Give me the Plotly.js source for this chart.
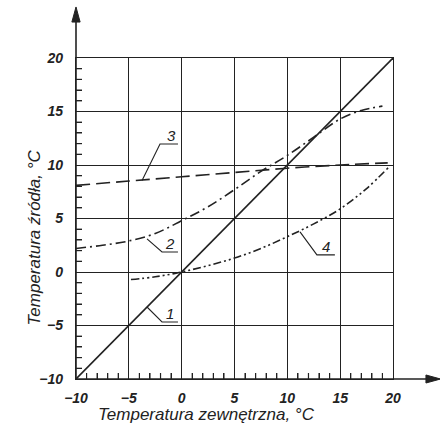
<!DOCTYPE html>
<html>
<head>
<meta charset="utf-8">
<script src="https://cdn.plot.ly/plotly-3.0.1.min.js"></script>
<style>body{margin:0;background:#fff;}</style>
</head>
<body>
<div id="chart"></div>
<script>
// Curve data
const line1X = [-10, 20];
const line1Y = [-10, 20];

const line2X = [-10, -7.5, -5, -2.5, 0, 2.5, 5, 7.5, 10, 12.5, 15, 17, 19];
const line2Y = [2.2, 2.5, 2.9, 3.6, 4.8, 6.1, 7.7, 9.4, 10.9, 12.6, 14.3, 15.1, 15.5];

const line3X = [-10, -5, 0, 5, 10, 15, 19.5];
const line3Y = [8.1, 8.5, 8.9, 9.3, 9.7, 10.0, 10.2];

const line4X = [-4.8, -2.5, 0, 2.5, 5, 7.5, 10, 12.5, 15, 17.5, 19.6];
const line4Y = [-0.7, -0.45, 0, 0.6, 1.3, 2.2, 3.3, 4.5, 5.9, 7.8, 9.8];

const curveLabels = ["1", "2", "3", "4"];
const axisRange = [-10, 20];
const majorStep = 5;
const minorStep = 1;
const xTitle = "Temperatura zewnętrzna, °C";
const yTitle = "Temperatura źródła, °C";

const ink = "#222";
const fontFam = "Liberation Sans";

// minor tick positions derived from the axis range and step
const minorPos = [];
for (let v = axisRange[0] + minorStep; v < axisRange[1]; v += minorStep) {
  if (v % majorStep !== 0) minorPos.push(v);
}
const tickLenX = 0.56; // ~6px in y-data units
const tickLenY = 0.57; // ~6px in x-data units

const traces = [
  {x: line1X, y: line1Y, mode: "lines", line: {color: ink, width: 1.6}},
  {x: line2X, y: line2Y, mode: "lines", line: {color: ink, width: 1.6, dash: "10px,4px,2px,4px", shape: "spline"}},
  {x: line3X, y: line3Y, mode: "lines", line: {color: ink, width: 1.6, dash: "14px,6px", shape: "spline"}},
  {x: line4X, y: line4Y, mode: "lines", line: {color: ink, width: 1.6, dash: "8px,3px,2px,3px,2px,3px", shape: "spline"}},
  // small ticks along the x axis
  {x: minorPos, y: minorPos.map(() => axisRange[0]), mode: "markers",
   marker: {size: 1, color: "rgba(0,0,0,0)"}, hoverinfo: "skip",
   error_y: {type: "constant", symmetric: false, value: tickLenX, valueminus: 0, width: 0, thickness: 1.2, color: ink}},
  // small ticks along the y axis
  {x: minorPos.map(() => axisRange[0]), y: minorPos, mode: "markers",
   marker: {size: 1, color: "rgba(0,0,0,0)"}, hoverinfo: "skip",
   error_x: {type: "constant", symmetric: false, value: tickLenY, valueminus: 0, width: 0, thickness: 1.2, color: ink}}
];

// leader line paths (data coordinates) and label anchors
const leaders = [
  {pts: [[-3.28, -3.27], [-1.86, -4.67], [-0.35, -4.67]], lab: [-1.1, -3.85]},
  {pts: [[-3.28, 3.1], [-1.86, 1.87], [-0.35, 1.87]], lab: [-1.1, 2.65]},
  {pts: [[-3.75, 8.55], [-2.05, 11.96], [-0.35, 11.96]], lab: [-1.0, 12.75]},
  {pts: [[11.2, 3.75], [12.8, 1.6], [14.5, 1.6]], lab: [13.66, 2.4]}
];

const shapes = [];
const annotations = [];
leaders.forEach((l, i) => {
  shapes.push({type: "path", xref: "x", yref: "y",
    path: "M" + l.pts.map(p => p[0] + "," + p[1]).join(" L"),
    line: {color: ink, width: 1.1}});
  annotations.push({x: l.lab[0], y: l.lab[1], xref: "x", yref: "y", text: curveLabels[i],
    showarrow: false, font: {family: fontFam, size: 15, color: ink, style: "italic"}});
});

// axis arrows (paper coordinates, extending beyond the plotting box)
shapes.push({type: "line", xref: "paper", yref: "paper", x0: 0, y0: 0, x1: 0, y1: 1.12, line: {color: ink, width: 1.6}});
shapes.push({type: "path", xref: "paper", yref: "paper", path: "M-0.013,1.112 L0,1.159 L0.013,1.112 Z", fillcolor: ink, line: {color: ink, width: 1}});
shapes.push({type: "line", xref: "paper", yref: "paper", x0: 0, y0: 0, x1: 1.11, y1: 0, line: {color: ink, width: 1.6}});
shapes.push({type: "path", xref: "paper", yref: "paper", path: "M1.104,-0.0125 L1.15,0 L1.104,0.0125 Z", fillcolor: ink, line: {color: ink, width: 1}});

annotations.push({x: (206 - 76) / 317, y: -(426 - 379) / 321, xref: "paper", yref: "paper", text: xTitle,
  showarrow: false, font: {family: fontFam, size: 17, color: ink, style: "italic"}});
annotations.push({x: -(76 - 22) / 317, y: (379 - 238) / 321, xref: "paper", yref: "paper", text: yTitle, textangle: -90,
  showarrow: false, font: {family: fontFam, size: 17, color: ink, style: "italic"}});

function makeAxis(standoff) {
  return {
    range: axisRange.slice(),
    dtick: majorStep,
    showgrid: true,
    gridcolor: ink,
    gridwidth: 1.2,
    zeroline: false,
    showline: true,
    linecolor: ink,
    linewidth: 1.3,
    mirror: true,
    ticks: "inside",
    ticklen: 6,
    tickwidth: 1.2,
    tickcolor: ink,
    tickfont: {family: fontFam, size: 14, color: ink, style: "italic", weight: "bold"},
    ticklabelstandoff: standoff,
    minor: {dtick: minorStep, ticks: "inside", ticklen: 6, tickwidth: 1.2, tickcolor: ink, showgrid: false}
  };
}

const layout = {
  width: 440, height: 437,
  margin: {l: 76, r: 47, t: 58, b: 58},
  paper_bgcolor: "#fff", plot_bgcolor: "#fff",
  showlegend: false,
  xaxis: makeAxis(6),
  yaxis: makeAxis(9),
  shapes: shapes,
  annotations: annotations
};

Plotly.newPlot("chart", traces, layout, {displayModeBar: false});
</script>
</body>
</html>
